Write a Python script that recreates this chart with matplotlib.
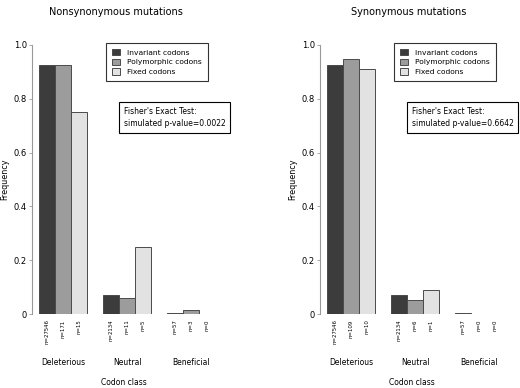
import numpy as np
import matplotlib
matplotlib.use("Agg")
import matplotlib.pyplot as plt

# data
classes = ["Deleterious", "Neutral", "Beneficial"]
series = ["Invariant codons", "Polymorphic codons", "Fixed codons"]
colors = ["#3c3c3c", "#9c9c9c", "#e2e2e2"]

nonsyn_inv = [0.926, 0.072, 0.002]
nonsyn_poly = [0.924, 0.059, 0.016]
nonsyn_fixed = [0.75, 0.25, 0.0]
nonsyn_n = [["n=27546", "n=2134", "n=57"],
            ["n=171", "n=11", "n=3"],
            ["n=15", "n=5", "n=0"]]

syn_inv = [0.926, 0.072, 0.002]
syn_poly = [0.948, 0.052, 0.0]
syn_fixed = [0.909, 0.091, 0.0]
syn_n = [["n=27546", "n=2134", "n=57"],
         ["n=109", "n=6", "n=0"],
         ["n=10", "n=1", "n=0"]]

W, H = 520, 388
plt.rcParams['font.family'] = 'DejaVu Sans'
fig = plt.figure(figsize=(W / 100, H / 100), dpi=100)


def fx(x):
    return x / W


def fy(y):
    return 1 - y / H


def panel(left_px, title, title_cx, inv, poly, fixed, nlab, pval):
    ax = fig.add_axes([fx(left_px), fy(314), 199 / W, 269 / H])
    x0 = np.arange(len(classes)) * 4
    for i, vals in enumerate([inv, poly, fixed]):
        ax.bar(x0 + i + 0.5, vals, width=1.0, color=colors[i],
               edgecolor="#4a4a4a", linewidth=0.7, label=series[i])
        for g in range(len(classes)):
            ax.text(x0[g] + i + 0.5, -0.02, nlab[i][g], rotation=90,
                    ha="center", va="top", fontsize=3.9)
    ax.set_xlim(-0.45, 12)
    ax.set_ylim(0, 1.0)
    for s in ["top", "right", "bottom"]:
        ax.spines[s].set_visible(False)
    ax.spines["left"].set_color("#999999")
    ax.spines["left"].set_linewidth(0.8)
    ax.set_xticks([])
    ax.set_yticks([0, 0.2, 0.4, 0.6, 0.8, 1.0])
    ax.set_yticklabels(["0", "0.2", "0.4", "0.6", "0.8", "1.0"])
    ax.tick_params(axis="y", length=2.5, width=0.6, color="#999999",
                   labelsize=6, pad=1.2)
    for g in range(len(classes)):
        ax.text(x0[g] + 1.5, -0.182, classes[g], ha="center", va="center",
                fontsize=5.5)
    ax.text(5.3, -0.256, "Codon class", ha="center", va="center", fontsize=5.5)
    ax.set_ylabel("Frequency", fontsize=5.8, labelpad=3)
    fig.text(fx(title_cx), fy(12), title, ha="center", va="center", fontsize=7)
    leg = ax.legend(loc="upper left",
                    bbox_to_anchor=(fx(left_px + 74), fy(43)),
                    bbox_transform=fig.transFigure, fontsize=5.4,
                    frameon=True, fancybox=False, edgecolor="black",
                    handlelength=1.1, handleheight=1.0, handletextpad=1.0,
                    borderpad=0.75, labelspacing=0.4, borderaxespad=0)
    leg.get_frame().set_linewidth(0.8)
    fig.text(fx(left_px + 92), fy(117.5),
             "Fisher's Exact Test:\nsimulated p-value=" + pval,
             ha="left", va="center", fontsize=5.5, linespacing=1.45,
             bbox=dict(boxstyle="square,pad=0.6", fc="white",
                       ec="black", lw=0.8))
    return ax


panel(32, "Nonsynonymous mutations", 116, nonsyn_inv, nonsyn_poly,
      nonsyn_fixed, nonsyn_n, "0.0022")
panel(320, "Synonymous mutations", 409, syn_inv, syn_poly,
      syn_fixed, syn_n, "0.6642")

fig.savefig("out.png", dpi=100)
